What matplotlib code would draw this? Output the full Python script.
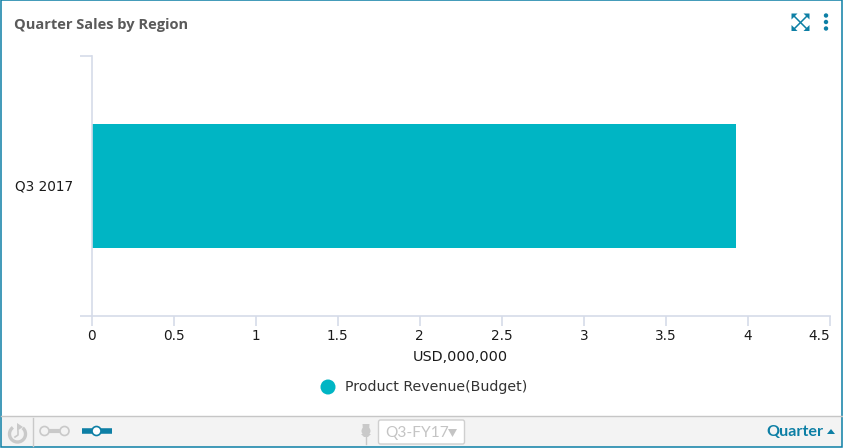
import matplotlib
matplotlib.use("Agg")
import matplotlib.pyplot as plt
from matplotlib.patches import Rectangle, Circle, Polygon, FancyBboxPatch, Arc

# Chart values
quarters = ["Q3 2017"]
revenue_budget = [3.93]
x_ticks = [0, 0.5, 1, 1.5, 2, 2.5, 3, 3.5, 4, 4.5]
x_tick_labels = ["0", "0.5", "1", "1.5", "2", "2.5", "3", "3.5", "4", "4.5"]

W, H = 843, 448
TEAL = "#00b5c4"
FRAME = "#0d7fa5"
AXIS = "#d5dbe9"
GREY = "#c9c9c9"

fig = plt.figure(figsize=(W / 100, H / 100), dpi=100, facecolor="white")

# Overlay in pixel coordinates for the panel chrome
bg = fig.add_axes([0, 0, 1, 1], zorder=0)
bg.set_xlim(0, W)
bg.set_ylim(H, 0)
bg.axis("off")

# Toolbar strip and outer frame
bg.add_patch(Rectangle((1, 416), W - 2, 31, fc="#f3f3f3", ec="none"))
bg.plot([1, W - 1], [416.5, 416.5], color="#c6c6c6", lw=1)
bg.add_patch(Rectangle((0.5, 0.5), W - 1.5, H - 1.5, fc="none", ec=FRAME, lw=1.1))

bg.text(14, 24.5, "Quarter Sales by Region", family="Open Sans", weight="bold",
        fontsize=10.55, color="#5a5a5a", va="center", ha="left")

# Expand icon
for x0, y0, x1, y1 in [(794, 16, 807, 29), (807, 16, 794, 29)]:
    bg.plot([x0, x1], [y0, y1], color=FRAME, lw=1.1)
for tip, a, b in [((791.5, 13.5), (797.5, 13.5), (791.5, 19.5)), ((809.5, 13.5), (803.5, 13.5), (809.5, 19.5)),
                  ((791.5, 31), (797.5, 31), (791.5, 25)), ((809.5, 31), (803.5, 31), (809.5, 25))]:
    bg.add_patch(Polygon([tip, a, b], fc=FRAME, ec="none"))

# Menu dots
for y in [15.5, 22, 28.5]:
    bg.add_patch(Circle((826, y), 2.2, fc=FRAME, ec="none"))

# Undo icon
bg.add_patch(Arc((17.5, 434), 16, 16, theta1=-50, theta2=235, angle=0, ec=GREY, lw=2.4))
bg.add_patch(Polygon([(17, 423), (17, 431), (23, 427)], fc=GREY, ec="none"))
bg.plot([18, 18, 15], [431, 435, 437], color=GREY, lw=1.2)
bg.plot([32.5, 32.5], [418, 446], color=GREY, lw=1)

# Range slider icon
bg.plot([44, 65], [431, 431], color=GREY, lw=3, solid_capstyle="butt")
for x in [44.5, 64.5]:
    bg.add_patch(Circle((x, 431), 4.5, fc="#f3f3f3", ec=GREY, lw=1.2, zorder=3))

# Single slider icon
bg.plot([82, 112], [431, 431], color=FRAME, lw=4, solid_capstyle="butt")
bg.add_patch(Circle((96.5, 431), 4.5, fc="white", ec=FRAME, lw=1.2, zorder=3))

# Pin icon
bg.add_patch(Circle((366, 431), 4.5, fc=GREY, ec="none"))
bg.add_patch(Polygon([(362.5, 424), (369.5, 424), (369, 431), (363, 431)], fc=GREY, ec="none"))
bg.add_patch(Polygon([(361, 434), (371, 434), (368, 437), (364, 437)], fc=GREY, ec="none"))
bg.plot([366, 366], [437, 444], color=GREY, lw=1)

# Quarter selector
bg.add_patch(FancyBboxPatch((378.5, 420), 86, 24, boxstyle="round,pad=0,rounding_size=2",
                            fc="white", ec="#cfcfcf", lw=1))
bg.text(385.5, 433, "Q3-FY17", family="Lato", fontsize=11.2, color="#c4c4c4", va="center", ha="left")
bg.add_patch(Polygon([(448, 429), (457, 429), (452.5, 437)], fc="#c4c4c4", ec="none"))

bg.text(766, 432, "Quarter", family="Lato", weight="bold", fontsize=11.6,
        color=FRAME, va="center", ha="left")
bg.add_patch(Polygon([(827, 434), (835, 434), (831, 429)], fc=FRAME, ec="none"))

# Plot area: x=0 at 91.5 px, x=4.5 at 830 px, category band from 56 to 316 px
ax = fig.add_axes([91.5 / W, 1 - 316 / H, (830 - 91.5) / W, (316 - 56) / H], zorder=1)
ax.patch.set_alpha(0)
ax.barh(range(len(quarters)), revenue_budget, height=0.477, color=TEAL, label="Product Revenue(Budget)")
ax.set_xlim(0, 4.5)
ax.set_ylim(-0.5, 0.5)

for side in ["top", "right"]:
    ax.spines[side].set_visible(False)
for side in ["left", "bottom"]:
    ax.spines[side].set_color(AXIS)
    ax.spines[side].set_linewidth(1.2)

ax.set_xticks(x_ticks)
ax.set_xticklabels(x_tick_labels, fontsize=9.8, color="#1a1a1a")
ax.get_xticklabels()[-1].set_ha("right")
ax.tick_params(axis="x", length=7.2, width=1.2, color=AXIS, pad=2)

ax.set_yticks(range(len(quarters)))
ax.set_yticklabels(quarters, fontsize=9.8, color="#1a1a1a", va="center")
ax.set_yticks([-0.5, 0.5], minor=True)
ax.tick_params(axis="y", which="major", length=0, pad=13)
ax.tick_params(axis="y", which="minor", length=9, width=1.2, color=AXIS)

ax.set_xlabel("USD,000,000", fontsize=10.4, color="#1a1a1a", labelpad=5.5)

# Legend entry
bg.add_patch(Circle((328, 387), 7.5, fc=TEAL, ec="none"))
bg.text(345, 387.5, "Product Revenue(Budget)", fontsize=10.2, color="#333333", va="center", ha="left")

fig.savefig("out.png", dpi=100, facecolor="white")
